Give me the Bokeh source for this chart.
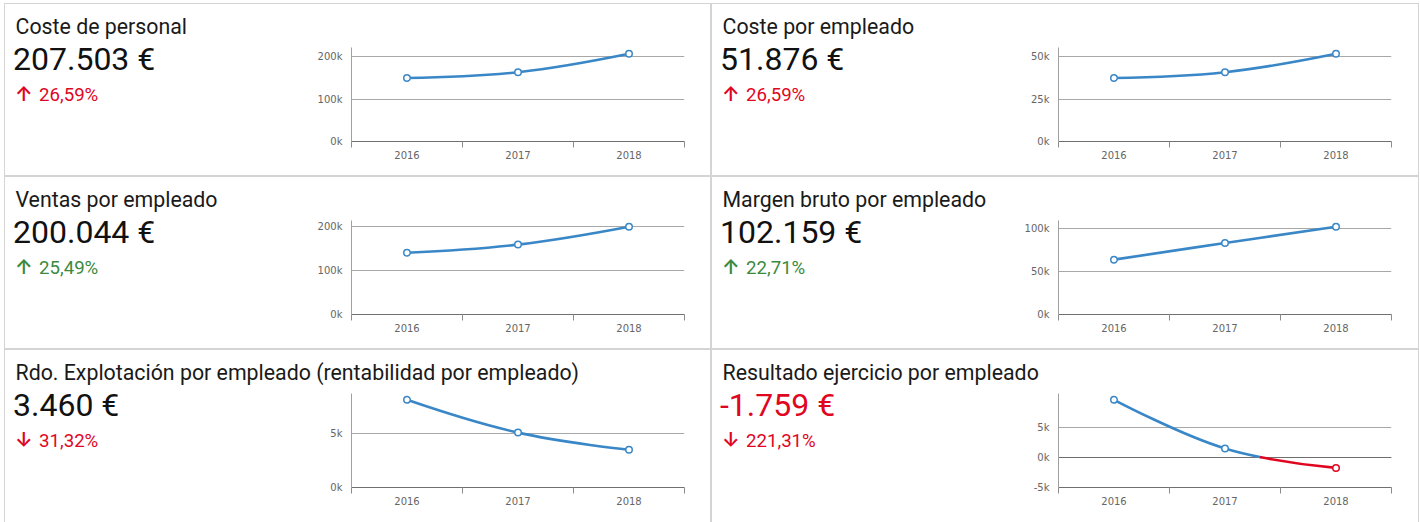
import numpy as np
from bokeh.plotting import figure
from bokeh.models import Range1d, FixedTicker, ColumnDataSource, Grid, Div
from bokeh.layouts import row, column
from bokeh.core.properties import value
from bokeh.embed import file_html
from bokeh.resources import INLINE

# ---------------- data ----------------
years = ["2016", "2017", "2018"]
titles = [
    "Coste de personal",
    "Coste por empleado",
    "Ventas por empleado",
    "Margen bruto por empleado",
    "Rdo. Explotación por empleado (rentabilidad por empleado)",
    "Resultado ejercicio por empleado",
]
coste_personal = [150400, 163917, 207503]
coste_por_empleado = [37600, 40980, 51876]
ventas_por_empleado = [141000, 159410, 200044]
margen_bruto_por_empleado = [63900, 83252, 102159]
rdo_explotacion_por_empleado = [8050, 5038, 3460]
resultado_ejercicio_por_empleado = [9500, 1450, -1759]
variaciones = ["26,59%", "26,59%", "25,49%", "22,71%", "31,32%", "221,31%"]
flechas = ["↑", "↑", "↑", "↑", "↓", "↓"]
favorable = [False, False, True, True, False, False]
y_ticks = [
    [0, 100000, 200000],
    [0, 25000, 50000],
    [0, 100000, 200000],
    [0, 50000, 100000],
    [0, 5000],
    [-5000, 0, 5000],
]
series = [coste_personal, coste_por_empleado, ventas_por_empleado,
          margen_bruto_por_empleado, rdo_explotacion_por_empleado,
          resultado_ejercicio_por_empleado]

# ---------------- style ----------------
BLUE = "#3a87c7"
RED = "#e0061f"
GREEN = "#3b8a3e"
GRID = "#a8a8a8"
TICK_TXT = "#666666"
FONT = "Roboto"
TEXT_W = 290
TITLE_H = 40
FRAME_W = 333
FRAME_H = 94
FRAME_LEFT = 346
TITLE_FS = 21.33
PCT_FS = 18.67


def spline_controls(xs, ys, smoothing=1.5):
    n = len(xs)
    left = [(xs[i], ys[i]) for i in range(n)]
    right = [(xs[i], ys[i]) for i in range(n)]
    denom = smoothing + 1
    for i in range(1, n - 1):
        x, y = xs[i], ys[i]
        lx, ly = xs[i - 1], ys[i - 1]
        nx, ny = xs[i + 1], ys[i + 1]
        lcx = (smoothing * x + lx) / denom
        lcy = (smoothing * y + ly) / denom
        rcx = (smoothing * x + nx) / denom
        rcy = (smoothing * y + ny) / denom
        if rcx != lcx:
            corr = ((rcy - lcy) * (rcx - x)) / (rcx - lcx) + y - rcy
            lcy += corr
            rcy += corr
        if lcy > ly and lcy > y:
            lcy = max(ly, y); rcy = 2 * y - lcy
        elif lcy < ly and lcy < y:
            lcy = min(ly, y); rcy = 2 * y - lcy
        if rcy > ny and rcy > y:
            rcy = max(ny, y); lcy = 2 * y - rcy
        elif rcy < ny and rcy < y:
            rcy = min(ny, y); lcy = 2 * y - rcy
        left[i] = (lcx, lcy)
        right[i] = (rcx, rcy)
    return [[(xs[i - 1], ys[i - 1]), right[i - 1], left[i], (xs[i], ys[i])] for i in range(1, n)]


def split_bezier(P, t):
    p0, p1, p2, p3 = [np.array(q, dtype=float) for q in P]
    a = p0 + (p1 - p0) * t
    b = p1 + (p2 - p1) * t
    c = p2 + (p3 - p2) * t
    d = a + (b - a) * t
    e = b + (c - b) * t
    f = d + (e - d) * t
    return [p0, a, d, f], [f, e, c, p3]


def bez_y(P, t):
    return ((1 - t) ** 3 * P[0][1] + 3 * (1 - t) ** 2 * t * P[1][1]
            + 3 * (1 - t) * t ** 2 * P[2][1] + t ** 3 * P[3][1])


def zone_pieces(seg, threshold=0.0):
    y0, y1, y2, y3 = [q[1] - threshold for q in seg]
    coeffs = [-y0 + 3 * y1 - 3 * y2 + y3, 3 * y0 - 6 * y1 + 3 * y2, -3 * y0 + 3 * y1, y0]
    roots = [r.real for r in np.roots(coeffs) if abs(r.imag) < 1e-9 and 1e-6 < r.real < 1 - 1e-6]
    pieces, rest, consumed = [], seg, 0.0
    for r in sorted(roots):
        a, rest = split_bezier(rest, (r - consumed) / (1 - consumed))
        pieces.append(a)
        consumed = r
    pieces.append(rest)
    return pieces


def make_chart(i, width, height):
    vals = series[i]
    ticks = y_ticks[i]
    ystart = min(ticks[0], min(vals))
    ymax = max(vals)
    # frame top a few pixels above the highest point so its marker is not clipped
    yend = ystart + (ymax - ystart) * FRAME_H / (FRAME_H - 6.3)
    n = len(years)
    centers = [k + 0.5 for k in range(n)]
    bounds = list(range(n + 1))
    mb_left = FRAME_LEFT - TEXT_W
    top = 3
    p = figure(width=width, height=height, x_range=Range1d(0, n), y_range=Range1d(ystart, yend),
               output_backend="svg", toolbar_location=None,
               min_border_left=mb_left, min_border_right=width - mb_left - FRAME_W,
               min_border_top=top, min_border_bottom=height - top - FRAME_H,
               outline_line_color=None, background_fill_color="white", border_fill_color="white")

    xa = p.xaxis[0]
    xa.ticker = FixedTicker(ticks=centers, minor_ticks=bounds)
    xa.major_label_overrides = {c: y for c, y in zip(centers, years)}
    xa.major_tick_line_color = None
    xa.major_tick_out = 6
    xa.major_tick_in = 0
    xa.minor_tick_out = 6
    xa.minor_tick_in = 0
    xa.minor_tick_line_color = "#8c8c8c"
    xa.axis_line_color = "#707070"
    xa.major_label_standoff = 3
    xa.major_label_text_font = "DejaVu Sans"
    xa.major_label_text_font_size = "10px"
    xa.major_label_text_color = TICK_TXT
    p.xgrid.visible = False

    ya = p.yaxis[0]
    yt = FixedTicker(ticks=ticks, minor_ticks=[])
    ya.ticker = yt
    ya.major_label_overrides = {t: f"{t // 1000}k" for t in ticks}
    ya.major_tick_line_color = None
    ya.minor_tick_line_color = None
    ya.major_tick_out = 0
    ya.major_tick_in = 0
    ya.axis_line_color = "#a0a0a0"
    ya.major_label_standoff = 9
    ya.major_label_text_font = "DejaVu Sans"
    ya.major_label_text_font_size = "10px"
    ya.major_label_text_color = TICK_TXT
    p.ygrid.ticker = yt
    p.ygrid.grid_line_color = GRID
    if ystart < 0:
        p.add_layout(Grid(dimension=1, ticker=FixedTicker(ticks=[0]), grid_line_color="#6e6e6e"))

    segs = spline_controls(centers, vals)
    pieces = []
    for s in segs:
        pieces.extend(zone_pieces(s, 0.0))
    data = dict(x0=[], y0=[], cx0=[], cy0=[], cx1=[], cy1=[], x1=[], y1=[], color=[])
    for pc in pieces:
        data["x0"].append(pc[0][0]); data["y0"].append(pc[0][1])
        data["cx0"].append(pc[1][0]); data["cy0"].append(pc[1][1])
        data["cx1"].append(pc[2][0]); data["cy1"].append(pc[2][1])
        data["x1"].append(pc[3][0]); data["y1"].append(pc[3][1])
        data["color"].append(BLUE if bez_y(pc, 0.5) >= 0 else RED)
    p.bezier(x0="x0", y0="y0", x1="x1", y1="y1", cx0="cx0", cy0="cy0", cx1="cx1", cy1="cy1",
             line_color="color", line_width=2.6, line_cap="round", source=ColumnDataSource(data))
    msrc = ColumnDataSource(dict(x=centers, y=vals, c=[BLUE if v >= 0 else RED for v in vals]))
    p.scatter("x", "y", source=msrc, size=6.5, fill_color="white", line_color="c", line_width=1.5)
    return p


def make_panel(i, width, height):
    vals = series[i]
    last = vals[-1]
    value_txt = f"{last:,.0f}".replace(",", ".") + " €"
    pct_color = GREEN if favorable[i] else RED
    val_color = RED if last < 0 else "#111111"

    tf = figure(width=width, height=TITLE_H, x_range=Range1d(0, width), y_range=Range1d(TITLE_H, 0),
                output_backend="svg", toolbar_location=None, min_border=0,
                x_axis_type=None, y_axis_type=None, outline_line_color=None,
                background_fill_color="white", border_fill_color="white")
    tf.grid.visible = False
    tf.text(x=[10], y=[29.3 - 0.342 * TITLE_FS], text=[titles[i]], text_font=value(FONT),
            text_font_size=f"{TITLE_FS}px", text_color="#1a1a1a", text_baseline="alphabetic")

    body_h = height - TITLE_H
    pct_top = 57.7 - 0.8418 * PCT_FS
    html = (
        f'<div style="position:relative;width:{TEXT_W}px;height:{body_h}px;background:#fff;">'
        f'<div style="position:absolute;left:8px;top:-1px;font-family:Roboto;font-size:32px;'
        f'line-height:32px;white-space:nowrap;color:{val_color};">{value_txt}</div>'
        f'<div style="position:absolute;left:10px;top:40.4px;font-family:Inter;font-size:20px;'
        f'font-weight:600;line-height:20px;white-space:nowrap;color:{pct_color};">{flechas[i]}</div>'
        f'<div style="position:absolute;left:34px;top:{pct_top:.2f}px;font-family:Roboto;'
        f'font-size:{PCT_FS}px;line-height:{PCT_FS}px;white-space:nowrap;color:{pct_color};">'
        f'{variaciones[i]}</div>'
        '</div>'
    )
    vd = Div(text=html, width=TEXT_W, height=body_h, margin=0,
             styles={"background-color": "white"})

    chart = make_chart(i, width - TEXT_W, body_h)
    return column(tf, row(vd, chart, spacing=0), spacing=0,
                  styles={"background-color": "white"})


panels = []
for i in range(6):
    w = 705 if i % 2 == 0 else 706
    h = 171 if i < 4 else 172
    panels.append(make_panel(i, w, h))

rows = [row(panels[2 * r], panels[2 * r + 1], spacing=2) for r in range(3)]
layout = column(*rows, spacing=2,
                styles={"background-color": "#d4d4d4", "padding": "1px 1px 0px 1px",
                        "margin": "3px -20px -20px 4px"})

open("out.html", "w").write(file_html(layout, INLINE))
